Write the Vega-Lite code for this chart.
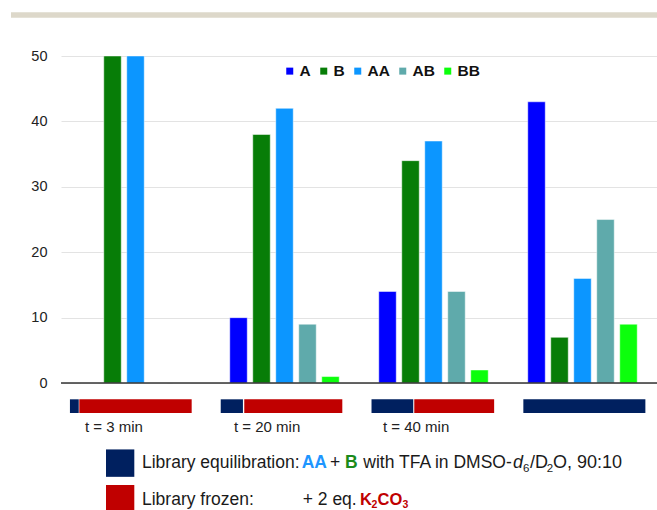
{
  "$schema": "https://vega.github.io/schema/vega-lite/v6.json",
  "width": 596,
  "height": 454,
  "autosize": {"type": "none"},
  "padding": {"left": 61, "top": 56, "right": 0, "bottom": 0},
  "background": "#ffffff",
  "config": {"view": {"stroke": null}, "font": "Liberation Sans"},
  "datasets": {
    "bars": [
      {"sample": "t = 3 min", "series": "A", "value": 0},
      {"sample": "t = 3 min", "series": "B", "value": 50},
      {"sample": "t = 3 min", "series": "AA", "value": 50},
      {"sample": "t = 3 min", "series": "AB", "value": 0},
      {"sample": "t = 3 min", "series": "BB", "value": 0},
      {"sample": "t = 20 min", "series": "A", "value": 10},
      {"sample": "t = 20 min", "series": "B", "value": 38},
      {"sample": "t = 20 min", "series": "AA", "value": 42},
      {"sample": "t = 20 min", "series": "AB", "value": 9},
      {"sample": "t = 20 min", "series": "BB", "value": 1},
      {"sample": "t = 40 min", "series": "A", "value": 14},
      {"sample": "t = 40 min", "series": "B", "value": 34},
      {"sample": "t = 40 min", "series": "AA", "value": 37},
      {"sample": "t = 40 min", "series": "AB", "value": 14},
      {"sample": "t = 40 min", "series": "BB", "value": 2},
      {"sample": "equilibrated", "series": "A", "value": 43},
      {"sample": "equilibrated", "series": "B", "value": 7},
      {"sample": "equilibrated", "series": "AA", "value": 16},
      {"sample": "equilibrated", "series": "AB", "value": 25},
      {"sample": "equilibrated", "series": "BB", "value": 9}
    ],
    "timeline": [
      {"sample": "t = 3 min", "phase": "Library equilibration", "from": 0.060, "to": 0.119},
      {"sample": "t = 3 min", "phase": "Library frozen", "from": 0.123, "to": 0.877},
      {"sample": "t = 20 min", "phase": "Library equilibration", "from": 1.072, "to": 1.221},
      {"sample": "t = 20 min", "phase": "Library frozen", "from": 1.230, "to": 1.888},
      {"sample": "t = 40 min", "phase": "Library equilibration", "from": 2.084, "to": 2.364},
      {"sample": "t = 40 min", "phase": "Library frozen", "from": 2.371, "to": 2.907},
      {"sample": "equilibrated", "phase": "Library equilibration", "from": 3.103, "to": 3.922}
    ],
    "blank": [{}]
  },
  "resolve": {"scale": {"x": "independent", "color": "independent"}},
  "layer": [
    {
      "data": {"name": "bars"},
      "mark": {"type": "bar", "stroke": "#ffffff", "strokeWidth": 0.8, "strokeOpacity": 0.6},
      "encoding": {
        "x": {"field": "sample", "type": "nominal", "scale": {"domain": ["t = 3 min", "t = 20 min", "t = 40 min", "equilibrated"], "paddingInner": 0, "paddingOuter": 0}, "axis": null},
        "xOffset": {"field": "series", "type": "nominal", "scale": {"domain": ["A", "B", "AA", "AB", "BB"], "paddingInner": 0.24, "paddingOuter": 0.86}},
        "y": {
          "field": "value", "type": "quantitative", "stack": null,
          "scale": {"domain": [-19.4, 50], "nice": false, "zero": false},
          "axis": {"values": [0, 10, 20, 30, 40, 50], "ticks": false, "domain": false, "labelPadding": 14, "labelFontSize": 14.5, "labelColor": "#222222", "labelFont": "Liberation Sans", "grid": true, "gridColor": "#e3e3e3", "title": null}
        },
        "y2": {"datum": 0},
        "color": {
          "field": "series", "type": "nominal",
          "scale": {"domain": ["A", "B", "AA", "AB", "BB"], "range": ["#0000FF", "#077D07", "#0C96FF", "#5FAAAB", "#0CFF0C"]},
          "legend": {"orient": "none", "legendX": 221, "legendY": 7, "direction": "horizontal", "title": null, "symbolType": "square", "symbolSize": 49, "symbolStrokeWidth": 0, "labelFontSize": 15.5, "labelFontWeight": "bold", "labelFont": "Liberation Sans", "labelColor": "#111111", "labelOffset": 2, "columnPadding": 5, "padding": 0}
        }
      }
    },
    {
      "data": {"name": "blank"},
      "mark": {"type": "rule", "color": "#DDD8CA", "strokeWidth": 5.4},
      "encoding": {
        "x": {"datum": -0.3356, "type": "quantitative", "scale": {"domain": [0, 4], "nice": false, "zero": false}, "axis": null},
        "x2": {"datum": 4},
        "y": {"datum": 56.27, "type": "quantitative", "scale": {"domain": [-19.4, 50], "nice": false, "zero": false}}
      }
    },
    {
      "data": {"name": "blank"},
      "mark": {"type": "rule", "color": "#333333", "strokeWidth": 1.5},
      "encoding": {
        "y": {"datum": 0, "type": "quantitative", "scale": {"domain": [-19.4, 50], "nice": false, "zero": false}}
      }
    },
    {
      "data": {"name": "timeline"},
      "mark": {"type": "rect"},
      "encoding": {
        "x": {"field": "from", "type": "quantitative", "scale": {"domain": [0, 4], "nice": false, "zero": false}, "axis": null},
        "x2": {"field": "to"},
        "y": {"datum": -2.48, "type": "quantitative", "scale": {"domain": [-19.4, 50], "nice": false, "zero": false}},
        "y2": {"datum": -4.57},
        "color": {"field": "phase", "type": "nominal", "scale": {"domain": ["Library equilibration", "Library frozen"], "range": ["#00205F", "#C00000"]}, "legend": null}
      }
    },
    {
      "data": {"name": "bars"},
      "transform": [{"filter": "datum.series === 'A' && datum.sample !== 'equilibrated'"}],
      "mark": {"type": "text", "align": "left", "baseline": "alphabetic", "dx": -50.5, "fontSize": 15, "font": "Liberation Sans", "color": "#222222"},
      "encoding": {
        "x": {"field": "sample", "type": "nominal", "scale": {"domain": ["t = 3 min", "t = 20 min", "t = 40 min", "equilibrated"], "paddingInner": 0, "paddingOuter": 0}, "axis": null},
        "y": {"datum": -7.43, "type": "quantitative", "scale": {"domain": [-19.4, 50], "nice": false, "zero": false}},
        "text": {"field": "sample"}
      }
    },
    {
      "data": {"name": "blank"},
      "mark": {"type": "rect", "color": "#00205F"},
      "encoding": {
        "x": {"datum": 0.302, "type": "quantitative", "scale": {"domain": [0, 4], "nice": false, "zero": false}, "axis": null},
        "x2": {"datum": 0.492},
        "y": {"datum": -10.14, "type": "quantitative", "scale": {"domain": [-19.4, 50], "nice": false, "zero": false}},
        "y2": {"datum": -14.33}
      }
    },
    {
      "data": {"name": "blank"},
      "mark": {"type": "rect", "color": "#C00000"},
      "encoding": {
        "x": {"datum": 0.302, "type": "quantitative", "scale": {"domain": [0, 4], "nice": false, "zero": false}, "axis": null},
        "x2": {"datum": 0.492},
        "y": {"datum": -15.58, "type": "quantitative", "scale": {"domain": [-19.4, 50], "nice": false, "zero": false}},
        "y2": {"datum": -19.7}
      }
    },
    {
      "data": {"name": "blank"},
      "mark": {"type": "text", "text": "Library equilibration:", "align": "left", "baseline": "alphabetic", "fontSize": 17.5, "font": "Liberation Sans", "color": "#1a1a1a"},
      "encoding": {
        "x": {"datum": 0.5436, "type": "quantitative", "scale": {"domain": [0, 4], "nice": false, "zero": false}, "axis": null},
        "y": {"datum": -13.02, "type": "quantitative", "scale": {"domain": [-19.4, 50], "nice": false, "zero": false}}
      }
    },
    {
      "data": {"name": "blank"},
      "mark": {"type": "text", "text": "AA", "align": "left", "baseline": "alphabetic", "fontSize": 17.5, "fontWeight": "bold", "font": "Liberation Sans", "color": "#1E96FF"},
      "encoding": {
        "x": {"datum": 1.6154, "type": "quantitative", "scale": {"domain": [0, 4], "nice": false, "zero": false}, "axis": null},
        "y": {"datum": -13.02, "type": "quantitative", "scale": {"domain": [-19.4, 50], "nice": false, "zero": false}}
      }
    },
    {
      "data": {"name": "blank"},
      "mark": {"type": "text", "text": "+", "align": "left", "baseline": "alphabetic", "fontSize": 17.5, "font": "Liberation Sans", "color": "#1a1a1a"},
      "encoding": {
        "x": {"datum": 1.8054, "type": "quantitative", "scale": {"domain": [0, 4], "nice": false, "zero": false}, "axis": null},
        "y": {"datum": -13.02, "type": "quantitative", "scale": {"domain": [-19.4, 50], "nice": false, "zero": false}}
      }
    },
    {
      "data": {"name": "blank"},
      "mark": {"type": "text", "text": "B", "align": "left", "baseline": "alphabetic", "fontSize": 17.5, "fontWeight": "bold", "font": "Liberation Sans", "color": "#1B8A1B"},
      "encoding": {
        "x": {"datum": 1.906, "type": "quantitative", "scale": {"domain": [0, 4], "nice": false, "zero": false}, "axis": null},
        "y": {"datum": -13.02, "type": "quantitative", "scale": {"domain": [-19.4, 50], "nice": false, "zero": false}}
      }
    },
    {
      "data": {"name": "blank"},
      "mark": {"type": "text", "text": "with TFA in DMSO-", "align": "left", "baseline": "alphabetic", "fontSize": 17.5, "font": "Liberation Sans", "color": "#1a1a1a"},
      "encoding": {
        "x": {"datum": 2.0289, "type": "quantitative", "scale": {"domain": [0, 4], "nice": false, "zero": false}, "axis": null},
        "y": {"datum": -13.02, "type": "quantitative", "scale": {"domain": [-19.4, 50], "nice": false, "zero": false}}
      }
    },
    {
      "data": {"name": "blank"},
      "mark": {"type": "text", "text": "d", "align": "left", "baseline": "alphabetic", "fontSize": 18, "fontStyle": "italic", "font": "Liberation Sans", "color": "#1a1a1a"},
      "encoding": {
        "x": {"datum": 3.0336, "type": "quantitative", "scale": {"domain": [0, 4], "nice": false, "zero": false}, "axis": null},
        "y": {"datum": -13.02, "type": "quantitative", "scale": {"domain": [-19.4, 50], "nice": false, "zero": false}}
      }
    },
    {
      "data": {"name": "blank"},
      "mark": {"type": "text", "text": "6", "align": "left", "baseline": "alphabetic", "fontSize": 11.5, "font": "Liberation Sans", "color": "#1a1a1a"},
      "encoding": {
        "x": {"datum": 3.1007, "type": "quantitative", "scale": {"domain": [0, 4], "nice": false, "zero": false}, "axis": null},
        "y": {"datum": -13.54, "type": "quantitative", "scale": {"domain": [-19.4, 50], "nice": false, "zero": false}}
      }
    },
    {
      "data": {"name": "blank"},
      "mark": {"type": "text", "text": "/D", "align": "left", "baseline": "alphabetic", "fontSize": 18, "font": "Liberation Sans", "color": "#1a1a1a"},
      "encoding": {
        "x": {"datum": 3.1477, "type": "quantitative", "scale": {"domain": [0, 4], "nice": false, "zero": false}, "axis": null},
        "y": {"datum": -13.02, "type": "quantitative", "scale": {"domain": [-19.4, 50], "nice": false, "zero": false}}
      }
    },
    {
      "data": {"name": "blank"},
      "mark": {"type": "text", "text": "2", "align": "left", "baseline": "alphabetic", "fontSize": 11.5, "font": "Liberation Sans", "color": "#1a1a1a"},
      "encoding": {
        "x": {"datum": 3.2604, "type": "quantitative", "scale": {"domain": [0, 4], "nice": false, "zero": false}, "axis": null},
        "y": {"datum": -13.54, "type": "quantitative", "scale": {"domain": [-19.4, 50], "nice": false, "zero": false}}
      }
    },
    {
      "data": {"name": "blank"},
      "mark": {"type": "text", "text": "O, 90:10", "align": "left", "baseline": "alphabetic", "fontSize": 18, "font": "Liberation Sans", "color": "#1a1a1a"},
      "encoding": {
        "x": {"datum": 3.3014, "type": "quantitative", "scale": {"domain": [0, 4], "nice": false, "zero": false}, "axis": null},
        "y": {"datum": -13.02, "type": "quantitative", "scale": {"domain": [-19.4, 50], "nice": false, "zero": false}}
      }
    },
    {
      "data": {"name": "blank"},
      "mark": {"type": "text", "text": "Library frozen:", "align": "left", "baseline": "alphabetic", "fontSize": 17.5, "font": "Liberation Sans", "color": "#1a1a1a"},
      "encoding": {
        "x": {"datum": 0.5436, "type": "quantitative", "scale": {"domain": [0, 4], "nice": false, "zero": false}, "axis": null},
        "y": {"datum": -18.63, "type": "quantitative", "scale": {"domain": [-19.4, 50], "nice": false, "zero": false}}
      }
    },
    {
      "data": {"name": "blank"},
      "mark": {"type": "text", "text": "+ 2 eq.", "align": "left", "baseline": "alphabetic", "fontSize": 17.5, "font": "Liberation Sans", "color": "#1a1a1a"},
      "encoding": {
        "x": {"datum": 1.6222, "type": "quantitative", "scale": {"domain": [0, 4], "nice": false, "zero": false}, "axis": null},
        "y": {"datum": -18.63, "type": "quantitative", "scale": {"domain": [-19.4, 50], "nice": false, "zero": false}}
      }
    },
    {
      "data": {"name": "blank"},
      "mark": {"type": "text", "text": "K", "align": "left", "baseline": "alphabetic", "fontSize": 16.5, "fontWeight": "bold", "font": "Liberation Sans", "color": "#C00000"},
      "encoding": {
        "x": {"datum": 2.0067, "type": "quantitative", "scale": {"domain": [0, 4], "nice": false, "zero": false}, "axis": null},
        "y": {"datum": -18.63, "type": "quantitative", "scale": {"domain": [-19.4, 50], "nice": false, "zero": false}}
      }
    },
    {
      "data": {"name": "blank"},
      "mark": {"type": "text", "text": "2", "align": "left", "baseline": "alphabetic", "fontSize": 10.5, "fontWeight": "bold", "font": "Liberation Sans", "color": "#C00000"},
      "encoding": {
        "x": {"datum": 2.0839, "type": "quantitative", "scale": {"domain": [0, 4], "nice": false, "zero": false}, "axis": null},
        "y": {"datum": -19.14, "type": "quantitative", "scale": {"domain": [-19.4, 50], "nice": false, "zero": false}}
      }
    },
    {
      "data": {"name": "blank"},
      "mark": {"type": "text", "text": "CO", "align": "left", "baseline": "alphabetic", "fontSize": 16.5, "fontWeight": "bold", "font": "Liberation Sans", "color": "#C00000"},
      "encoding": {
        "x": {"datum": 2.1242, "type": "quantitative", "scale": {"domain": [0, 4], "nice": false, "zero": false}, "axis": null},
        "y": {"datum": -18.63, "type": "quantitative", "scale": {"domain": [-19.4, 50], "nice": false, "zero": false}}
      }
    },
    {
      "data": {"name": "blank"},
      "mark": {"type": "text", "text": "3", "align": "left", "baseline": "alphabetic", "fontSize": 10.5, "fontWeight": "bold", "font": "Liberation Sans", "color": "#C00000"},
      "encoding": {
        "x": {"datum": 2.2919, "type": "quantitative", "scale": {"domain": [0, 4], "nice": false, "zero": false}, "axis": null},
        "y": {"datum": -19.14, "type": "quantitative", "scale": {"domain": [-19.4, 50], "nice": false, "zero": false}}
      }
    }
  ]
}
